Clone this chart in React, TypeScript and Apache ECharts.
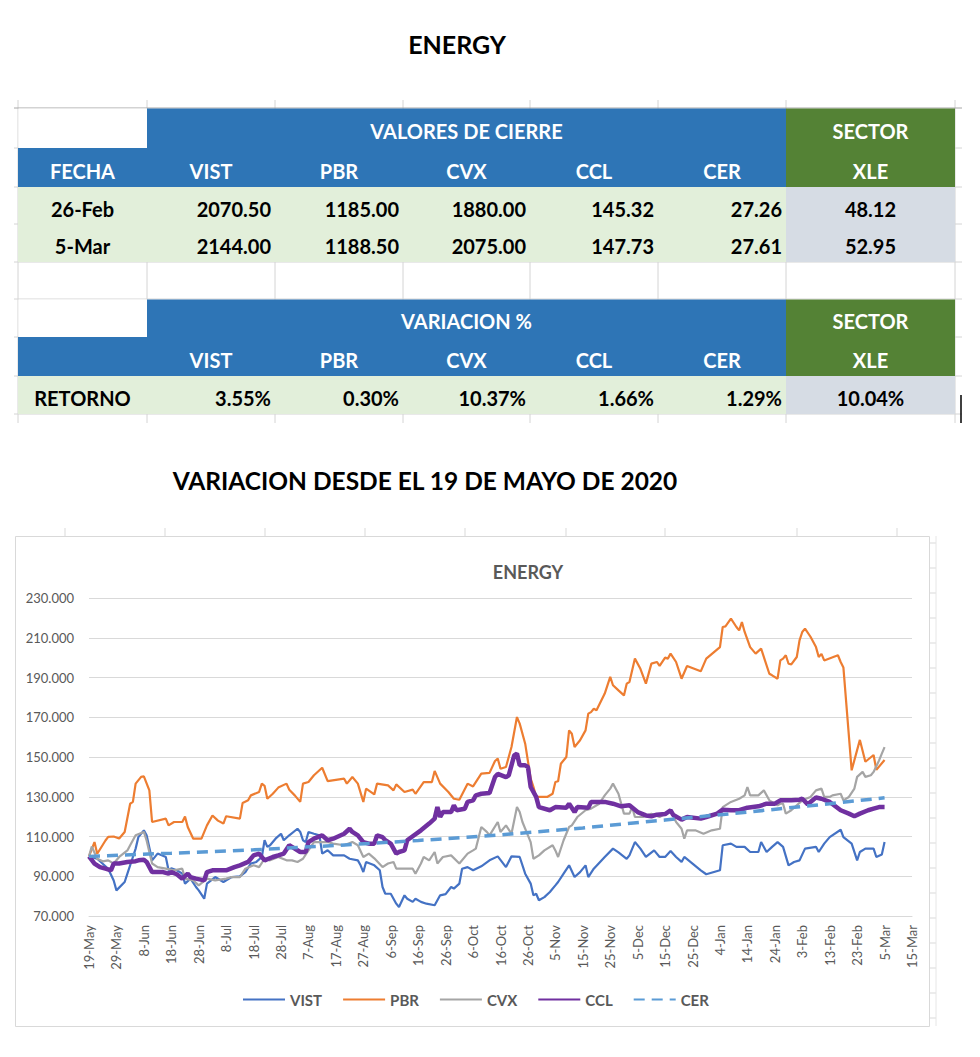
import React, { useEffect, useRef } from "react";
import * as echarts from "echarts";

// ---------- table data ----------
const tickers = ["VIST", "PBR", "CVX", "CCL", "CER"];
const closeDates = ["26-Feb", "5-Mar"];
const closeFeb26 = [2070.5, 1185.0, 1880.0, 145.32, 27.26];
const closeMar5 = [2144.0, 1188.5, 2075.0, 147.73, 27.61];
const xleClose = [48.12, 52.95];
const returnsPct = [3.55, 0.3, 10.37, 1.66, 1.29];
const xleReturnPct = 10.04;

// ---------- chart data: [days since 19-May-2020, index value] ----------
const vistData = [[0,100],[3,98.8],[7,93.8],[9,87.9],[10,82.9],[13,87.1],[14,91.3],[16,99.7],[17,103.9],[18,109.7],[20,113.1],[21,110.6],[23,98],[25,101.4],[28,99.7],[29,93],[30,94],[32,93],[34,91.3],[35,86.3],[37,88.8],[39,84.6],[40,82.9],[42,78.7],[43,86.3],[46,89.6],[49,87.1],[52,89.6],[55,90],[57,92.1],[59,96.4],[61,97.2],[63,99.7],[64,108.1],[65,104.8],[66,105.6],[68,108.9],[70,111.4],[71,108.1],[73,110.6],[76,113.9],[77,112.3],[78,108.1],[79,107.2],[80,112.3],[82,111.4],[84,110.6],[85,101.4],[87,103.1],[89,100.5],[93,100.5],[95,98.8],[98,98],[99,95.5],[100,92.1],[101,97.2],[104,95.5],[106,93],[107,84.6],[108,81.2],[110,81.2],[112,76.2],[113,74.5],[115,80.4],[116,78.7],[118,77.1],[119,78.7],[121,77.1],[123,76.2],[126,75.4],[128,80.4],[130,81],[132,84.6],[133,83.8],[135,86.3],[136,93.8],[138,94.6],[140,93],[143,95],[146,98],[149,100],[152,94.6],[154,100],[157,99.7],[159,91.3],[161,86.3],[162,80.4],[163,81.2],[164,77.9],[166,79.5],[168,82.1],[170,85.4],[171,87.1],[173,91.3],[175,95.5],[177,89.6],[179,92.1],[181,95.5],[182,89.6],[184,93.8],[188,99.7],[191,103.9],[193,102],[196,98.8],[197,100.5],[199,107.2],[201,103.9],[203,99.7],[206,103],[208,99.7],[210,99.7],[212,102.7],[214,99.7],[216,97.2],[217,99.7],[220,96.4],[223,93],[225,91],[230,93],[231,105.6],[234,106.4],[236,104.8],[239,104.8],[241,102.2],[244,102.2],[245,107.2],[247,102.2],[249,104.8],[251,107.2],[253,104.8],[255,95.5],[257,97.2],[259,98],[261,103.9],[265,104.8],[266,102.2],[268,106.4],[270,109.7],[274,113.4],[275,109.7],[278,106.4],[280,98],[281,102.2],[283,103.9],[286,103.9],[287,99.7],[289,101],[290,107.2]];

const pbrData = [[0,100],[2,107.2],[3,101.3],[6,108],[7,109.8],[9,110],[11,109],[13,112.3],[15,126.5],[16,127.4],[17,136.6],[19,140],[20,140.3],[22,133.2],[23,117.3],[28,119],[29,115.6],[31,117.3],[34,117.3],[35,120],[36,114.8],[38,108.9],[41,108.9],[43,115.6],[45,120.6],[47,118],[49,116.5],[50,120.2],[55,119],[56,126.9],[58,128.2],[59,130.7],[62,132.4],[63,136.6],[64,135.5],[65,129],[67,131.5],[69,134.6],[72,136.6],[73,133.5],[75,130.7],[77,127.4],[78,136.6],[80,137.4],[82,140.8],[85,144.6],[87,137.9],[93,139.1],[94,136.6],[96,139.9],[98,136.6],[100,127.4],[101,134.1],[104,131.2],[105,136.6],[109,135.7],[111,133.2],[112,136.2],[115,132.4],[118,133.6],[119,131.5],[122,137.4],[125,137.4],[126,143],[128,136.6],[131,132.4],[133,129],[135,128.5],[138,136.6],[140,135.2],[143,141.6],[146,142],[148,148],[149,149.2],[150,144.1],[152,145],[154,155],[156,170.1],[157,166.8],[159,156.7],[161,139.1],[162,135],[163,129.9],[167,129.9],[169,131.5],[170,137.4],[171,137.8],[172,146.6],[174,150],[175,163.4],[176,161.7],[177,155],[179,158.4],[181,163.4],[182,171.8],[183,172.6],[184,174.3],[185,173.5],[188,181.9],[190,190.3],[191,186.1],[193,183.5],[195,181],[196,186.9],[197,187.7],[199,199.5],[201,194.4],[203,186.9],[205,197],[207,197.8],[208,195.8],[210,200],[211,199.5],[212,202],[214,197.8],[216,189.4],[218,195.8],[223,193.1],[225,199.5],[230,205.3],[231,215.4],[232,215.7],[234,219.6],[236,215.4],[237,213.7],[238,217.9],[239,212.9],[241,205.3],[243,202],[245,204.5],[248,191.9],[249,191.1],[251,189.4],[252,198.6],[253,199.5],[254,201.2],[255,196.9],[256,196.6],[258,200.3],[259,208.7],[260,212.9],[261,214.6],[263,210.5],[265,205.3],[266,200.3],[267,201.9],[268,198.6],[273,201.2],[274,197.8],[275,195],[278,143.3],[281,158.6],[283,147.6],[286,151],[287,143.5],[290,148.5]];

const cvxData = [[0,100],[1,105],[3,98.8],[5,97.5],[7,98],[9,96.4],[11,99.7],[14,103],[15,105.6],[17,110.6],[20,112.3],[21,108],[23,96.4],[25,94.6],[28,93.8],[31,93],[34,93.8],[35,88.8],[38,87.9],[40,85.4],[43,88.8],[46,87.9],[50,88.8],[52,89.6],[55,89.6],[57,93.8],[60,95.5],[62,94.6],[64,98.8],[66,98],[69,99.7],[72,98],[74,98],[76,97.2],[78,98.8],[80,103],[82,107.2],[84,107.2],[87,107.2],[89,106.4],[93,105.6],[96,107.2],[98,105.6],[100,99.7],[102,101.4],[104,99],[107,94.6],[109,96.4],[111,97.2],[112,93.8],[115,93.8],[118,93.8],[119,91.3],[121,96.4],[122,99.7],[124,98],[126,102.2],[127,96.4],[129,99.7],[132,100.5],[135,96.4],[138,101.4],[140,103],[141,103.9],[143,114.8],[145,112.3],[146,110.6],[149,117.3],[150,112.3],[152,115.6],[154,111.4],[156,124.8],[157,122.3],[158,117.3],[161,107.2],[162,98.8],[164,100.5],[166,103],[169,105.6],[170,103],[171,99.7],[173,108.1],[175,114.8],[176,115.6],[178,119.8],[181,123.2],[183,124],[186,126.5],[188,130.7],[190,134.1],[191,136.6],[193,131.5],[195,121.5],[197,121.5],[198,124.8],[199,119.8],[202,119.8],[205,121.5],[208,119.8],[212,123.2],[214,117.3],[216,113.9],[217,108.9],[218,113.1],[221,113.1],[224,111.4],[227,113.1],[230,113.9],[231,124.8],[234,127.4],[237,129],[239,130.7],[240,134.9],[241,130.7],[244,130.7],[246,133.2],[248,128.2],[251,125.7],[252,126.5],[253,126.5],[254,121.5],[256,123.2],[260,128.2],[263,129.9],[265,133.2],[267,134.1],[268,129.9],[270,129.9],[271,130.7],[274,131.5],[275,128.2],[277,129.9],[279,134.1],[280,140],[282,142.5],[283,140],[285,140.8],[286,142.5],[288,148.3],[289,151.7],[290,155]];

const cclData = [[0,100],[2,96.4],[4,94.6],[6,93.8],[8,93],[9,96.4],[11,96.4],[14,97.2],[17,97.6],[18,98],[20,98.3],[21,97.2],[23,92.1],[27,92.1],[29,91.3],[30,92.1],[32,91],[34,88.8],[36,91.3],[37,89.6],[39,88.8],[42,87.9],[43,92.1],[45,93],[50,93],[53,94.6],[55,95.5],[58,97.2],[60,100.5],[62,101.4],[64,98],[67,99.7],[69,100.5],[71,101.4],[73,105.6],[74,104.8],[77,102.2],[79,102.2],[80,107.2],[82,108.9],[85,110.6],[87,108.1],[89,108.9],[93,111.4],[95,113.9],[96,112.3],[98,110.6],[100,107.2],[102,106.4],[104,106.4],[105,110.6],[107,109.7],[108,108.1],[110,106.4],[112,101.4],[113,102.2],[115,103],[116,108.1],[118,110.1],[121,113.1],[124,116.5],[126,119],[127,124.8],[128,119.8],[129,122.3],[132,122.3],[133,125.7],[134,123.2],[137,124],[138,127.4],[140,128.2],[141,130.7],[143,131.5],[146,131.9],[148,139.9],[149,141.5],[152,139.9],[153,140.8],[155,150.8],[156,151.7],[157,145.8],[159,145.8],[160,145],[161,134.9],[163,129.9],[164,124.8],[168,123.2],[170,124.8],[174,124.5],[175,126.5],[177,122.3],[178,124.8],[182,124.5],[183,127.4],[188,127.4],[191,126.5],[194,125.2],[197,125.7],[200,122.3],[203,120.6],[205,120.2],[207,121],[210,121.3],[212,123.2],[213,120.8],[216,118.5],[218,119.8],[223,119],[225,119.8],[229,121.5],[231,123.5],[234,123.2],[237,123.2],[240,124.5],[244,125.2],[247,126.5],[250,126.5],[252,128.2],[256,128.2],[259,128.5],[260,129],[262,126.2],[265,129.6],[267,129],[270,127.4],[274,123.2],[277,121.5],[279,120.2],[281,121.5],[284,123.2],[286,124],[288,124.8],[290,124.8]];

const cerData = [[0,100],[30,101.6],[60,103.3],[90,105.5],[120,108],[150,110.8],[180,114.3],[210,118.3],[240,122.3],[270,126.5],[290,129.5]];

const yTicks = { min: 70, max: 230, step: 20 };
const xDays = { min: 0, max: 300, step: 10 };
const startDateUTC = Date.UTC(2020, 4, 19);
const monthNames = ["Jan","Feb","Mar","Apr","May","Jun","Jul","Aug","Sep","Oct","Nov","Dec"];

const FONT = "Lato, 'Open Sans', sans-serif";
const BLUE = "#2E75B6";
const GREEN = "#548235";
const LIGHTGREEN = "#E2EFDA";
const LIGHTGREY = "#D6DCE4";

function dayLabel(d: number) {
  const dt = new Date(startDateUTC + d * 86400000);
  return dt.getUTCDate() + "-" + monthNames[dt.getUTCMonth()];
}

function buildTable() {
  const xs = [18, 147, 275, 403, 530, 658, 786, 955];
  const ys = [108, 148, 187, 224, 262, 299, 337, 376, 414];
  const els: any[] = [];
  xs.forEach((x) => {
    els.push({ type: "line", z: 1, shape: { x1: x, y1: 100, x2: x, y2: 423 }, style: { stroke: "#d4d4d4", lineWidth: 1 } });
  });
  ys.forEach((y, i) => {
    els.push({ type: "line", z: 1, shape: { x1: 14, y1: y, x2: 962, y2: y }, style: { stroke: i === 0 ? "#a6a6a6" : "#d4d4d4", lineWidth: 1 } });
  });
  const rect = (x1: number, y1: number, x2: number, y2: number, fill: string) =>
    els.push({ type: "rect", z: 2, shape: { x: x1, y: y1, width: x2 - x1, height: y2 - y1 }, style: { fill } });
  [0, 5].forEach((r) => {
    rect(18.5, ys[r] + 0.5, xs[1], ys[r + 1], "#ffffff");
    rect(xs[1], ys[r] + 0.5, xs[6], ys[r + 1], BLUE);
    rect(xs[6], ys[r] + 0.5, xs[7], ys[r + 1], GREEN);
    rect(xs[0], ys[r + 1], xs[6], ys[r + 2], BLUE);
    rect(xs[6], ys[r + 1], xs[7], ys[r + 2], GREEN);
  });
  rect(xs[0], ys[2], xs[6], ys[4], LIGHTGREEN);
  rect(xs[6], ys[2], xs[7], ys[4], LIGHTGREY);
  rect(xs[0], ys[7], xs[6], ys[8], LIGHTGREEN);
  rect(xs[6], ys[7], xs[7], ys[8], LIGHTGREY);

  const txt = (text: string, x: number, y: number, align: string, fill: string) =>
    els.push({
      type: "text", z: 3,
      style: { text, x, y, fill, align, verticalAlign: "middle", fontSize: 20, fontWeight: "bold", fontFamily: FONT },
    });
  const cx = (c: number) => (xs[c] + xs[c + 1]) / 2;
  const rx = (c: number) => xs[c + 1] - 4;
  const yc = (r: number) => (ys[r] + ys[r + 1]) / 2 + 3;

  txt("VALORES DE CIERRE", (xs[1] + xs[6]) / 2, yc(0), "center", "#ffffff");
  txt("SECTOR", cx(6), yc(0), "center", "#ffffff");
  txt("FECHA", cx(0), yc(1), "center", "#ffffff");
  tickers.forEach((t, i) => txt(t, cx(i + 1), yc(1), "center", "#ffffff"));
  txt("XLE", cx(6), yc(1), "center", "#ffffff");
  [closeFeb26, closeMar5].forEach((row, ri) => {
    txt(closeDates[ri], cx(0), yc(2 + ri), "center", "#000000");
    row.forEach((v, i) => txt(v.toFixed(2), rx(i + 1), yc(2 + ri), "right", "#000000"));
    txt(xleClose[ri].toFixed(2), cx(6), yc(2 + ri), "center", "#000000");
  });
  txt("VARIACION %", (xs[1] + xs[6]) / 2, yc(5), "center", "#ffffff");
  txt("SECTOR", cx(6), yc(5), "center", "#ffffff");
  tickers.forEach((t, i) => txt(t, cx(i + 1), yc(6), "center", "#ffffff"));
  txt("XLE", cx(6), yc(6), "center", "#ffffff");
  txt("RETORNO", cx(0), yc(7), "center", "#000000");
  returnsPct.forEach((v, i) => txt(v.toFixed(2) + "%", rx(i + 1), yc(7), "right", "#000000"));
  txt(xleReturnPct.toFixed(2) + "%", cx(6), yc(7), "center", "#000000");
  els.push({ type: "line", z: 3, shape: { x1: 961, y1: 395, x2: 961, y2: 423 }, style: { stroke: "#000", lineWidth: 1.5 } });
  return els;
}

function buildDecor() {
  const els: any[] = [];
  els.push({
    type: "text", z: 3,
    style: { text: "ENERGY", x: 457, y: 44, align: "center", verticalAlign: "middle", fontSize: 25, fontWeight: "bold", fontFamily: FONT, fill: "#000" },
  });
  els.push({
    type: "text", z: 3,
    style: { text: "VARIACION DESDE EL 19 DE MAYO DE 2020", x: 425, y: 480, align: "center", verticalAlign: "middle", fontSize: 24.5, fontWeight: "bold", fontFamily: FONT, fill: "#000" },
  });
  [65, 165, 265, 365, 465, 566, 665, 797, 897].forEach((x) =>
    els.push({ type: "line", z: 0, shape: { x1: x, y1: 528, x2: x, y2: 536 }, style: { stroke: "#d9d9d9", lineWidth: 1 } })
  );
  for (let y = 543; y <= 1020; y += 25) {
    els.push({ type: "line", z: 0, shape: { x1: 930, y1: y, x2: 936, y2: y }, style: { stroke: "#d9d9d9", lineWidth: 1 } });
  }
  els.push({ type: "line", z: 0, shape: { x1: 936, y1: 536, x2: 936, y2: 1026 }, style: { stroke: "#e6e6e6", lineWidth: 1 } });
  els.push({
    type: "rect", z: 0,
    shape: { x: 15.5, y: 536.5, width: 914, height: 490 },
    style: { fill: "transparent", stroke: "#d9d9d9", lineWidth: 1 },
  });
  els.push({
    type: "text", z: 3,
    style: { text: "ENERGY", x: 528, y: 572, align: "center", verticalAlign: "middle", fontSize: 18, fontWeight: "bold", fontFamily: FONT, fill: "#595959" },
  });
  return els;
}

export default function App() {
  const ref = useRef<HTMLDivElement>(null);
  useEffect(() => {
    document.body.style.margin = "0";
    const chart = echarts.init(ref.current as HTMLDivElement, null as any, { renderer: "svg" });
    const lineSeries = (name: string, data: number[][], color: string, width: number, type: any = "solid") => ({
      name,
      type: "line",
      data,
      symbol: "none",
      showSymbol: false,
      smooth: false,
      color,
      lineStyle: { color, width, type },
      emphasis: { disabled: true },
    });
    chart.setOption({
      animation: false,
      backgroundColor: "#ffffff",
      textStyle: { fontFamily: FONT },
      grid: { left: 89, right: 68, top: 598, bottom: 141, containLabel: false },
      xAxis: {
        type: "value",
        min: xDays.min,
        max: xDays.max,
        interval: xDays.step,
        axisLine: { show: true, lineStyle: { color: "#d9d9d9" } },
        axisTick: { show: false },
        splitLine: { show: false },
        axisLabel: {
          rotate: 90,
          margin: 9,
          fontSize: 13,
          color: "#595959",
          fontFamily: FONT,
          formatter: (v: number) => dayLabel(v),
        },
      },
      yAxis: {
        type: "value",
        min: yTicks.min,
        max: yTicks.max,
        interval: yTicks.step,
        axisLine: { show: false },
        axisTick: { show: false },
        splitLine: { lineStyle: { color: "#d9d9d9", width: 1 } },
        axisLabel: {
          margin: 15,
          fontSize: 13,
          color: "#595959",
          fontFamily: FONT,
          formatter: (v: number) => v.toFixed(3),
        },
      },
      legend: {
        left: 237,
        top: 987,
        itemWidth: 42,
        itemHeight: 14,
        itemGap: 20,
        itemStyle: { opacity: 0, borderWidth: 0 },
        textStyle: { fontSize: 15, fontWeight: "bold", color: "#595959", fontFamily: FONT },
        data: ["VIST", "PBR", "CVX", "CCL", "CER"],
      },
      series: [
        lineSeries("VIST", vistData, "#4472C4", 2.2),
        lineSeries("PBR", pbrData, "#ED7D31", 2.2),
        lineSeries("CVX", cvxData, "#A5A5A5", 2.2),
        lineSeries("CCL", cclData, "#7030A0", 4.5),
        lineSeries("CER", cerData, "#5B9BD5", 3.5, [11, 7]),
      ],
      graphic: { elements: [...buildTable(), ...buildDecor()] },
    });
    return () => chart.dispose();
  }, []);
  return <div ref={ref} style={{ position: "absolute", left: 0, top: 0, width: 980, height: 1057 }} />;
}
